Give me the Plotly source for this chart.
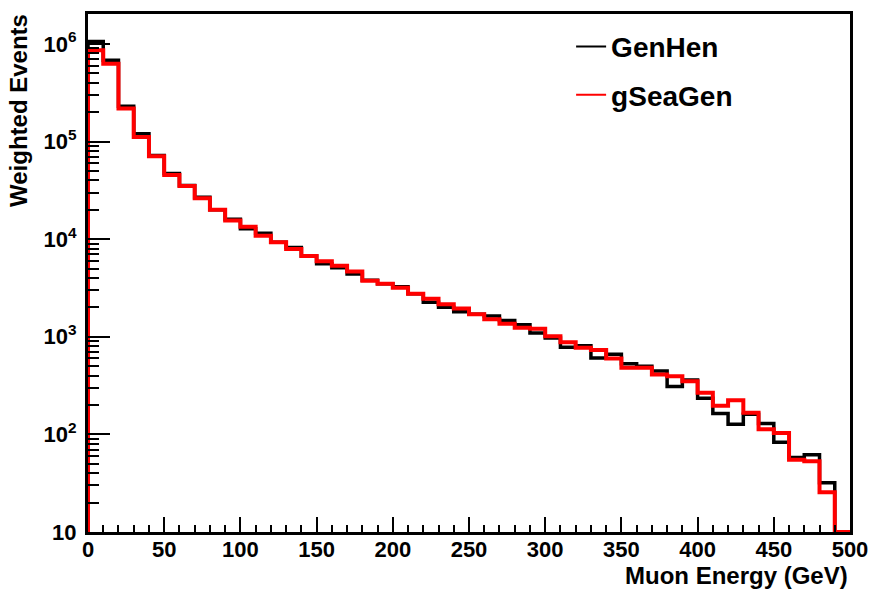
import numpy as np
import plotly.graph_objects as go

# 10 GeV bins from 0 to 500 GeV
bin_edges = list(range(0, 510, 10))

genhen = [1.06e6, 6.8e5, 2.30e5, 1.20e5, 7.2e4, 4.7e4, 3.55e4, 2.68e4, 2.0e4, 1.6e4,
          1.28e4, 1.15e4, 9.3e3, 8.2e3, 6.7e3, 5.6e3, 5.1e3, 4.4e3, 3.8e3, 3.5e3,
          3.25e3, 2.75e3, 2.25e3, 2.0e3, 1.8e3, 1.7e3, 1.63e3, 1.47e3, 1.33e3, 1.09e3,
          970, 780, 810, 605, 660, 530, 500, 445, 310, 360,
          234, 164, 127, 161, 129, 83, 58, 62, 32, 0]

gseagen = [8.6e5, 6.25e5, 2.18e5, 1.11e5, 7.05e4, 4.55e4, 3.5e4, 2.62e4, 2.0e4, 1.55e4,
           1.34e4, 1.08e4, 9.3e3, 7.9e3, 6.7e3, 5.95e3, 5.35e3, 4.65e3, 3.75e3, 3.5e3,
           3.18e3, 2.76e3, 2.45e3, 2.15e3, 1.95e3, 1.7e3, 1.51e3, 1.36e3, 1.24e3, 1.21e3,
           1.01e3, 880, 770, 730, 600, 480, 480, 410, 395, 350,
           267, 196, 224, 167, 113, 103, 55, 53, 25.5, 0]

x_ticks = [0, 50, 100, 150, 200, 250, 300, 350, 400, 450, 500]
y_ticks = [10, 1e2, 1e3, 1e4, 1e5, 1e6]
y_ticktext = ["10", "10<sup>2</sup>", "10<sup>3</sup>", "10<sup>4</sup>",
              "10<sup>5</sup>", "10<sup>6</sup>"]

LOG_MIN, LOG_MAX = 1.0, 6.306
FLOOR = 10 ** LOG_MIN


def step_outline(counts):
    """Histogram outline: rise at the first edge, steps, drop at the last edge."""
    c = np.maximum(np.asarray(counts, dtype=float), FLOOR)
    xs = [bin_edges[0]] + bin_edges
    ys = [FLOOR] + list(c) + [FLOOR]
    return xs, ys


FONT = "Liberation Sans, Arial, Helvetica, sans-serif"

fig = go.Figure()
for name, counts, color, width in [("GenHen", genhen, "black", 3.5),
                                   ("gSeaGen", gseagen, "#ff0000", 4)]:
    xs, ys = step_outline(counts)
    fig.add_trace(go.Scatter(x=xs, y=ys, mode="lines", line_shape="hv",
                             line=dict(color=color, width=width),
                             showlegend=False, hoverinfo="skip"))
    # legend entry with a thinner line sample
    fig.add_trace(go.Scatter(x=[None], y=[None], mode="lines", name=name,
                             legendgroup=name,
                             line=dict(color=color, width=2)))

fig.update_layout(
    width=879, height=589,
    margin=dict(l=88, r=19, t=11, b=57),
    paper_bgcolor="white", plot_bgcolor="white",
    font=dict(family=FONT, color="black"),
    showlegend=True,
    legend=dict(x=0.634, y=0.985, xanchor="left", yanchor="top",
                bgcolor="rgba(0,0,0,0)", borderwidth=0,
                font=dict(family=FONT, size=28, weight="bold"),
                tracegroupgap=9, itemwidth=30),
    xaxis=dict(range=[0, 500], tickvals=x_ticks,
               ticks="inside", ticklen=15, tickwidth=1.5, tickcolor="black",
               minor=dict(dtick=10, ticks="inside", ticklen=7, tickwidth=1.5,
                          tickcolor="black", showgrid=False),
               showgrid=False, zeroline=False,
               showline=True, linewidth=3, linecolor="black", mirror=True,
               tickfont=dict(family=FONT, size=22, weight="bold"),
               ticklabelstandoff=-4),
    yaxis=dict(type="log", range=[LOG_MIN, LOG_MAX],
               tickvals=y_ticks, ticktext=y_ticktext,
               ticks="inside", ticklen=22, tickwidth=1.5, tickcolor="black",
               minor=dict(dtick="D1", ticks="inside", ticklen=11, tickwidth=1.5,
                          tickcolor="black", showgrid=False),
               showgrid=False, zeroline=False,
               showline=True, linewidth=3, linecolor="black", mirror=True,
               tickfont=dict(family=FONT, size=22, weight="bold"),
               ticklabelstandoff=4),
    annotations=[
        dict(text="Muon Energy (GeV)", xref="paper", yref="paper",
             x=1, y=0, xanchor="right", yanchor="top", yshift=-28, xshift=0,
             showarrow=False, font=dict(family=FONT, size=24, weight="bold")),
        dict(text="Weighted Events", xref="paper", yref="paper",
             x=0, y=1, xanchor="right", yanchor="top", xshift=-54, yshift=2,
             textangle=-90, showarrow=False,
             font=dict(family=FONT, size=24, weight="bold")),
    ],
)

fig.write_html("out.html")
